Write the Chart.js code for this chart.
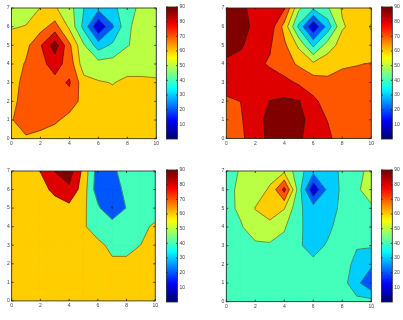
<!DOCTYPE html>
<html><head><meta charset="utf-8">
<script src="https://cdn.jsdelivr.net/npm/chart.js@4.4.1/dist/chart.umd.min.js"></script>
<style>
html,body{margin:0;padding:0;background:#fff;width:403px;height:320px;overflow:hidden;}
canvas{position:absolute;}
</style></head><body>
<script>
// ---------- data ----------
const xValues = [0,1,2,3,4,5,6,7,8,9,10];
const yValues = [0,1,2,3,4,5,6,7];
const xTicks = [0,2,4,6,8,10];
const yTicks = [0,1,2,3,4,5,6,7];
const colorbarTicks = [10,20,30,40,50,60,70,80,90];
const colorbarRange = [0,90];
const colorRange = [2,88];
const levelsTen = [10,20,30,40,50,60,70,80,90];
const levelsTwenty = [20,40,60,80,100];

// grids: rows from y=7 (top) down to y=0, columns x=0..10
const panel1Z = [
 [54, 55, 60.2, 61, 54, 40, 33, 37, 47, 52, 53],
 [59, 60.5, 66, 74, 58, 37, 11, 29, 48, 55, 56],
 [66, 67, 79, 95, 72, 51, 35, 42, 49.5, 53, 55],
 [64, 71, 77, 84, 76, 54, 54, 54, 56, 58, 58],
 [65, 74, 76, 77, 81, 64, 60.8, 59.7, 62, 61, 60.7],
 [66, 76, 76, 76, 76, 66, 63, 62, 63, 63, 62],
 [69, 78, 75, 72, 66, 64, 63, 63, 62, 62, 62],
 [62, 68, 66, 63, 64, 63, 62, 62, 62, 62, 62]
];
const panel2Z = [
 [93, 91, 88.4, 85, 81, 52, 42, 49, 61, 65, 63],
 [92.5, 92, 88.7, 86, 66.5, 38, 11, 34, 59, 63.5, 59.5],
 [93, 91, 86, 81, 72, 58, 38, 55, 64, 64, 62],
 [88.5, 87, 82, 79, 74, 68.5, 62, 66, 68.5, 69.5, 70.5],
 [84, 85, 84, 84, 83, 78.5, 75, 72, 74, 74, 74],
 [78.5, 80.1, 86, 90.2, 91.5, 90.5, 82, 76, 75, 75, 75],
 [75, 79, 86, 93, 97, 93, 86, 79.5, 74, 74, 74],
 [74, 77, 88, 91, 95, 92, 84, 82.5, 74, 73, 73]
];
const panel3Z = [
 [70, 74, 80.3, 100.5, 110, 74, 30, 36, 48, 50, 52],
 [68, 70, 74, 84, 96, 70, 28, 30, 45, 50, 52],
 [68, 69, 71, 72, 74, 64, 44, 19, 41, 50, 54],
 [67, 68, 69, 70, 69, 61.5, 54, 53, 55, 57, 62],
 [66, 67, 68, 68, 68, 66, 63, 57, 57, 60.1, 66],
 [66, 66, 67, 67, 67, 66, 65, 62, 62, 64, 66],
 [66, 67, 67, 67, 67, 67, 67, 66, 66, 66, 67],
 [66, 67, 67, 67, 67, 67, 67, 67, 67, 67, 67]
];
const panel4Z = [
 [45, 51.1, 55, 57, 58, 44, 33, 35, 42, 49, 51],
 [46, 53, 56, 61, 83, 45, 12, 32.5, 42, 49, 53],
 [47, 52, 60.3, 65, 60.5, 42, 34.5, 36, 42, 46, 49],
 [46, 49, 56, 57, 51, 42, 35, 38, 44, 45, 46],
 [45, 46, 48, 48.5, 47, 41, 37, 41, 44, 40.5, 41],
 [45, 45, 45, 46, 46, 44, 42, 44, 43, 38, 32],
 [45, 45, 45, 45, 45, 45, 45, 45, 44, 33, 21],
 [45, 45, 45, 45, 45, 45, 45, 45, 45, 43, 44]
];

// ---------- layout (pixel boxes) ----------
const panels = [
 {grid: panel1Z, levels: levelsTen,    plot:{l:11.5,t:6.6,r:157.3,b:138.7}, bar:{l:166.3,t:6.3,r:177.5,b:139.2}},
 {grid: panel2Z, levels: levelsTen,    plot:{l:226.3,t:6.3,r:372.3,b:138.4}, bar:{l:381.5,t:6.5,r:392.3,b:139.3}},
 {grid: panel3Z, levels: levelsTwenty, plot:{l:11.7,t:169.3,r:156.8,b:300.9}, bar:{l:166.3,t:169.6,r:177.5,b:302.5}},
 {grid: panel4Z, levels: levelsTen,    plot:{l:226.3,t:169.3,r:372.3,b:301.7}, bar:{l:381.3,t:169.5,r:392.3,b:302.4}}
];
const FONT = {family:'"Liberation Sans", Arial, sans-serif', size:5};
const TICK_COLOR = '#444';

// ---------- helpers ----------
function jet(t){
  t = Math.max(0, Math.min(1, t));
  const c = v => Math.round(255*Math.max(0, Math.min(1, v)));
  return `rgb(${c(1.5-Math.abs(4*t-3))},${c(1.5-Math.abs(4*t-2))},${c(1.5-Math.abs(4*t-1))})`;
}
function colorFor(v){ return jet((v-colorRange[0])/(colorRange[1]-colorRange[0])); }

function cellPolygons(xs, ys, vs, L){
  const hi = vs.map(v => v >= L);
  const nHi = hi.filter(Boolean).length;
  if (nHi === 0) return [];
  const cross = k => { const n=(k+1)%4; const f=(L-vs[k])/(vs[n]-vs[k]);
    return {x: xs[k]+f*(xs[n]-xs[k]), y: ys[k]+f*(ys[n]-ys[k]), c:true}; };
  if (nHi === 2 && hi[0] === hi[2]) {
    const centre = (vs[0]+vs[1]+vs[2]+vs[3])/4;
    if (centre < L) {
      const out = [];
      for (let k=0;k<4;k++) if (hi[k]) { const p=(k+3)%4; out.push([cross(p), {x:xs[k],y:ys[k]}, cross(k)]); }
      return out;
    }
  }
  const poly = [];
  for (let k=0;k<4;k++){ const n=(k+1)%4;
    if (hi[k]) poly.push({x:xs[k], y:ys[k]});
    if (hi[k] !== hi[n]) poly.push(cross(k));
  }
  return [poly];
}

function makeContourPlugin(Z, levels){
  return {
    id: 'contourFill',
    beforeDatasetsDraw(chart){
      const {ctx, chartArea:a, scales} = chart;
      const sx = v => scales.x.getPixelForValue(v), sy = v => scales.y.getPixelForValue(v);
      ctx.save();
      ctx.beginPath(); ctx.rect(a.left, a.top, a.right-a.left, a.bottom-a.top); ctx.clip();
      ctx.fillStyle = colorFor(colorRange[0]);
      ctx.fillRect(a.left, a.top, a.right-a.left, a.bottom-a.top);
      ctx.lineJoin = 'round';
      const lines = [];
      for (const L of levels){
        const col = colorFor(L);
        ctx.fillStyle = col; ctx.strokeStyle = col; ctx.lineWidth = 0.8;
        for (let j=0;j<yValues.length-1;j++) for (let i=0;i<xValues.length-1;i++){
          const xs = [xValues[i], xValues[i+1], xValues[i+1], xValues[i]];
          const ys = [yValues[j], yValues[j], yValues[j+1], yValues[j+1]];
          const vs = [Z[j][i], Z[j][i+1], Z[j+1][i+1], Z[j+1][i]];
          for (const poly of cellPolygons(xs, ys, vs, L)){
            ctx.beginPath();
            poly.forEach((pt,k) => { const X=sx(pt.x), Y=sy(pt.y); k ? ctx.lineTo(X,Y) : ctx.moveTo(X,Y); });
            ctx.closePath(); ctx.fill(); ctx.stroke();
            for (let k=0;k<poly.length;k++){ const p0=poly[k], p1=poly[(k+1)%poly.length]; if (p0.c && p1.c) lines.push([p0,p1]); }
          }
        }
      }
      ctx.strokeStyle = 'rgba(25,25,25,0.85)'; ctx.lineWidth = 0.55;
      ctx.beginPath();
      for (const [p0,p1] of lines){ ctx.moveTo(sx(p0.x), sy(p0.y)); ctx.lineTo(sx(p1.x), sy(p1.y)); }
      ctx.stroke();
      ctx.restore();
    },
    afterDatasetsDraw(chart){
      const {ctx, chartArea:a, scales} = chart;
      ctx.save();
      ctx.strokeStyle = '#222'; ctx.lineWidth = 0.8;
      ctx.strokeRect(a.left, a.top, a.right-a.left, a.bottom-a.top);
      ctx.beginPath();
      for (const v of xTicks){ const X = scales.x.getPixelForValue(v);
        ctx.moveTo(X, a.bottom); ctx.lineTo(X, a.bottom-2); ctx.moveTo(X, a.top); ctx.lineTo(X, a.top+2); }
      for (const v of yTicks){ const Y = scales.y.getPixelForValue(v);
        ctx.moveTo(a.left, Y); ctx.lineTo(a.left+2, Y); ctx.moveTo(a.right, Y); ctx.lineTo(a.right-2, Y); }
      ctx.stroke();
      ctx.restore();
    }
  };
}

const colorbarPlugin = {
  id: 'colorbarBox',
  afterDatasetsDraw(chart){
    const {ctx, chartArea:a, scales} = chart;
    ctx.save();
    ctx.strokeStyle = '#222'; ctx.lineWidth = 0.8;
    ctx.strokeRect(a.left, a.top, a.right-a.left, a.bottom-a.top);
    ctx.beginPath();
    for (const v of colorbarTicks){ const Y = scales.y.getPixelForValue(v);
      ctx.moveTo(a.left, Y); ctx.lineTo(a.left+1.5, Y); ctx.moveTo(a.right, Y); ctx.lineTo(a.right-1.5, Y); }
    ctx.stroke();
    ctx.restore();
  }
};

function addCanvas(left, top, w, h){
  const c = document.createElement('canvas');
  c.width = w; c.height = h;
  c.style.left = left+'px'; c.style.top = top+'px';
  c.style.width = w+'px'; c.style.height = h+'px';
  document.body.appendChild(c);
  return c;
}

const commonOpts = {
  responsive:false, maintainAspectRatio:false, animation:false, devicePixelRatio:1, events:[],
  plugins:{legend:{display:false}, tooltip:{enabled:false}}
};

panels.forEach(p => {
  const Z = p.grid.slice().reverse();   // Z[yIndex][xIndex], yIndex 0 = bottom
  const P = p.plot;
  const cl = Math.floor(P.l - 14), ct = Math.floor(P.t - 3);
  const cw = Math.ceil(P.r + 3) - cl, ch = Math.ceil(P.b + 12) - ct;
  const yW = P.l - cl, padTop = P.t - ct, padRight = cl + cw - P.r, xH = ct + ch - P.b;
  const nodes = [];
  yValues.forEach((yv,j) => xValues.forEach((xv,i) => nodes.push({x:xv, y:yv, v:Z[j][i]})));
  new Chart(addCanvas(cl, ct, cw, ch), {
    type:'scatter',
    data:{datasets:[{data:nodes, pointRadius:0, showLine:false}]},
    options:Object.assign({}, commonOpts, {
      layout:{padding:{left:0, top:padTop, right:padRight, bottom:0}},
      scales:{
        x:{type:'linear', min:xValues[0], max:xValues[xValues.length-1],
           afterBuildTicks:s => { s.ticks = xTicks.map(v => ({value:v})); },
           afterFit:s => { s.height = xH; },
           ticks:{font:FONT, color:TICK_COLOR, padding:2, maxRotation:0, autoSkip:false},
           grid:{display:false, drawTicks:false}, border:{display:false}},
        y:{type:'linear', min:yValues[0], max:yValues[yValues.length-1],
           afterBuildTicks:s => { s.ticks = yTicks.map(v => ({value:v})); },
           afterFit:s => { s.width = yW; },
           ticks:{font:FONT, color:TICK_COLOR, padding:2, autoSkip:false},
           grid:{display:false, drawTicks:false}, border:{display:false}}
      }
    }),
    plugins:[makeContourPlugin(Z, p.levels)]
  });

  const B = p.bar;
  const bl = Math.floor(B.l), bt = Math.floor(B.t - 4);
  const bw = Math.ceil(B.r + 12) - bl, bh = Math.ceil(B.b + 4) - bt;
  const bPadLeft = B.l - bl, bPadTop = B.t - bt, bPadBottom = bt + bh - B.b, axisW = bl + bw - B.r;
  new Chart(addCanvas(bl, bt, bw, bh), {
    type:'bar',
    data:{labels:[''], datasets:[{
      data:[[colorbarRange[0], colorbarRange[1]]],
      borderWidth:0, barPercentage:1, categoryPercentage:1,
      backgroundColor:(c) => {
        const {ctx, chartArea} = c.chart;
        if (!chartArea) return colorFor(45);
        const g = ctx.createLinearGradient(0, chartArea.bottom, 0, chartArea.top);
        const n = 36;
        for (let i=0;i<=n;i++){
          const v = colorbarRange[0] + (colorbarRange[1]-colorbarRange[0])*i/n;
          g.addColorStop(i/n, colorFor(v));
        }
        return g;
      }
    }]},
    options:Object.assign({}, commonOpts, {
      layout:{padding:{left:bPadLeft, top:bPadTop, right:0, bottom:bPadBottom}},
      scales:{
        x:{display:false},
        y:{position:'right', min:colorbarRange[0], max:colorbarRange[1],
           afterBuildTicks:s => { s.ticks = colorbarTicks.map(v => ({value:v})); },
           afterFit:s => { s.width = axisW; },
           ticks:{font:FONT, color:TICK_COLOR, padding:2, autoSkip:false},
           grid:{display:false, drawTicks:false}, border:{display:false}}
      }
    }),
    plugins:[colorbarPlugin]
  });
});
</script>
</body></html>
